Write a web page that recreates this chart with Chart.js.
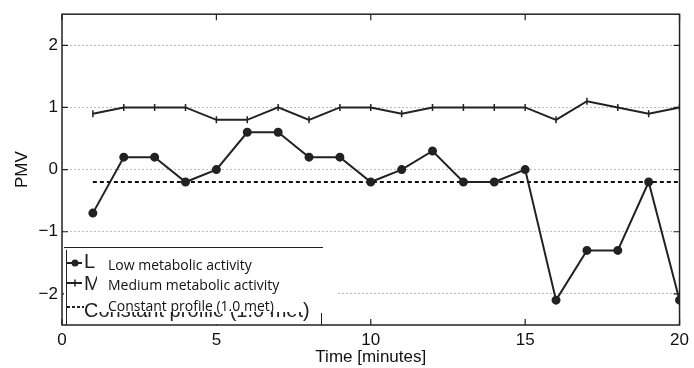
<!DOCTYPE html>
<html lang="en">
<head>
    <meta charset="UTF-8">
    <title>PMV over time</title>
    <script src="https://cdn.jsdelivr.net/npm/chart.js"></script>
    <style>
        html, body {
            margin: 0;
            padding: 0;
            background: white;
        }
        .chart-container {
            width: 694px;
            height: 368px;
        }
    </style>
</head>
<body>
    <div class="chart-container">
        <canvas id="pmvChart"></canvas>
    </div>

    <script>
        // data
        const minutes = [1, 2, 3, 4, 5, 6, 7, 8, 9, 10, 11, 12, 13, 14, 15, 16, 17, 18, 19, 20];
        const lowActivity = [-0.7, 0.2, 0.2, -0.2, 0.0, 0.6, 0.6, 0.2, 0.2, -0.2, 0.0, 0.3, -0.2, -0.2, 0.0, -2.1, -1.3, -1.3, -0.2, -2.1];
        const mediumActivity = [0.9, 1.0, 1.0, 1.0, 0.8, 0.8, 1.0, 0.8, 1.0, 1.0, 0.9, 1.0, 1.0, 1.0, 1.0, 0.8, 1.1, 1.0, 0.9, 1.0];
        const constantProfile = [-0.2, -0.2, -0.2, -0.2, -0.2, -0.2, -0.2, -0.2, -0.2, -0.2, -0.2, -0.2, -0.2, -0.2, -0.2, -0.2, -0.2, -0.2, -0.2, -0.2];
        const xTicks = [0, 5, 10, 15, 20];
        const yTicks = [-2, -1, 0, 1, 2];
        const seriesNames = ['Low metabolic activity', 'Medium metabolic activity', 'Constant profile (1.0 met)'];

        const FONT = "'Liberation Sans', Arial, sans-serif";

        function toPoints(values) {
            return minutes.map((m, i) => ({ x: m, y: values[i] }));
        }

        // box around the plot + inward tick marks (matlab look)
        const frame = {
            id: 'frame',
            afterDatasetsDraw(chart) {
                const { ctx, chartArea: a, scales } = chart;
                ctx.save();
                ctx.strokeStyle = '#222';
                ctx.lineWidth = 1.5;
                ctx.strokeRect(a.left, a.top, a.right - a.left, a.bottom - a.top);
                ctx.lineWidth = 1.2;
                ctx.beginPath();
                xTicks.forEach(v => {
                    const px = scales.x.getPixelForValue(v);
                    ctx.moveTo(px, a.bottom); ctx.lineTo(px, a.bottom - 6);
                    ctx.moveTo(px, a.top); ctx.lineTo(px, a.top + 6);
                });
                yTicks.forEach(v => {
                    const py = scales.y.getPixelForValue(v);
                    ctx.moveTo(a.left, py); ctx.lineTo(a.left + 6, py);
                    ctx.moveTo(a.right, py); ctx.lineTo(a.right - 6, py);
                });
                ctx.stroke();
                ctx.restore();
            }
        };

        // the legend of the figure is a pasted-over box, draw it by hand
        const overlayLegend = {
            id: 'overlayLegend',
            afterDraw(chart) {
                const { ctx, chartArea: a } = chart;
                const left = a.left + 2, top = 247, right = 323, bottom = a.bottom;
                ctx.save();
                ctx.fillStyle = 'white';
                ctx.fillRect(left, top, 336 - left, bottom - top - 1);
                ctx.strokeStyle = '#222';
                ctx.lineWidth = 1;
                ctx.beginPath();
                ctx.moveTo(left, top + 0.5); ctx.lineTo(right, top + 0.5);
                ctx.moveTo(left + 2.5, top + 3); ctx.lineTo(left + 2.5, bottom);
                ctx.moveTo(right - 1.5, bottom - 12); ctx.lineTo(right - 1.5, bottom);
                ctx.stroke();

                const rows = [263, 283, 304];
                // sample lines
                ctx.lineWidth = 2;
                ctx.beginPath();
                ctx.moveTo(67, rows[0]); ctx.lineTo(82, rows[0]);
                ctx.moveTo(67, rows[1]); ctx.lineTo(82, rows[1]);
                ctx.stroke();
                ctx.fillStyle = '#222';
                ctx.beginPath();
                ctx.arc(75, rows[0], 3.5, 0, Math.PI * 2);
                ctx.fill();
                ctx.lineWidth = 1.5;
                ctx.beginPath();
                ctx.moveTo(75, rows[1] - 3.5); ctx.lineTo(75, rows[1] + 3.5);
                ctx.stroke();
                ctx.lineWidth = 2;
                ctx.setLineDash([3, 2]);
                ctx.beginPath();
                ctx.moveTo(67, rows[2] + 3); ctx.lineTo(84, rows[2] + 3);
                ctx.stroke();
                ctx.setLineDash([]);

                // leftovers of the original legend text
                ctx.font = '20px ' + FONT;
                ctx.textBaseline = 'middle';
                ctx.fillText('L', 84, rows[0] - 1);
                ctx.fillText('M', 84, rows[1] + 1);
                ctx.fillText('Constant profile (1.0 met)', 84, rows[2] + 7);

                // pasted text on top
                ctx.fillStyle = 'white';
                ctx.fillRect(97, 256, 206, 56);
                ctx.fillStyle = '#111';
                ctx.font = "14px 'Open Sans', sans-serif";
                seriesNames.forEach((name, i) => {
                    ctx.fillText(name, 108, rows[i] + 3);
                });
                ctx.restore();
            }
        };

        new Chart(document.getElementById('pmvChart'), {
            type: 'line',
            data: {
                datasets: [
                    {
                        label: seriesNames[0],
                        data: toPoints(lowActivity),
                        borderColor: '#222',
                        backgroundColor: '#222',
                        borderWidth: 2,
                        pointRadius: 3.5,
                        pointStyle: 'circle',
                        tension: 0
                    },
                    {
                        label: seriesNames[1],
                        data: toPoints(mediumActivity),
                        borderColor: '#222',
                        backgroundColor: '#222',
                        borderWidth: 2,
                        pointRadius: 3.5,
                        pointBorderWidth: 1.5,
                        pointStyle: 'line',
                        rotation: 90,
                        tension: 0
                    },
                    {
                        label: seriesNames[2],
                        data: toPoints(constantProfile),
                        borderColor: '#111',
                        borderWidth: 2,
                        borderDash: [4, 3],
                        pointRadius: 0,
                        tension: 0
                    }
                ]
            },
            options: {
                responsive: true,
                maintainAspectRatio: false,
                animation: false,
                layout: { padding: { top: 8, right: 11, left: 0, bottom: 0 } },
                scales: {
                    x: {
                        type: 'linear',
                        min: 0,
                        max: 20,
                        afterBuildTicks: s => { s.ticks = xTicks.map(v => ({ value: v })); },
                        afterFit: s => { s.height = 43; },
                        grid: { display: false, drawTicks: false },
                        border: { display: false },
                        ticks: {
                            color: '#111',
                            padding: 5,
                            maxRotation: 0,
                            font: { family: FONT, size: 17 }
                        },
                        title: {
                            display: true,
                            text: 'Time [minutes]',
                            color: '#111',
                            padding: { top: 0, bottom: 0 },
                            font: { family: FONT, size: 17 }
                        }
                    },
                    y: {
                        min: -2.5,
                        max: 2.5,
                        afterBuildTicks: s => { s.ticks = yTicks.map(v => ({ value: v })); },
                        afterFit: s => { s.width = 62; },
                        grid: {
                            color: '#bbb',
                            lineWidth: 1,
                            drawTicks: false
                        },
                        border: { display: false, dash: [2, 2] },
                        ticks: {
                            color: '#111',
                            padding: 4,
                            font: { family: FONT, size: 17 },
                            callback: v => String(v).replace('-', '\u2212')
                        },
                        title: {
                            display: true,
                            text: 'PMV',
                            color: '#111',
                            padding: { top: 12, bottom: 0 },
                            font: { family: FONT, size: 17 }
                        }
                    }
                },
                plugins: {
                    legend: { display: false },
                    tooltip: { enabled: false }
                }
            },
            plugins: [frame, overlayLegend]
        });
    </script>
</body>
</html>
